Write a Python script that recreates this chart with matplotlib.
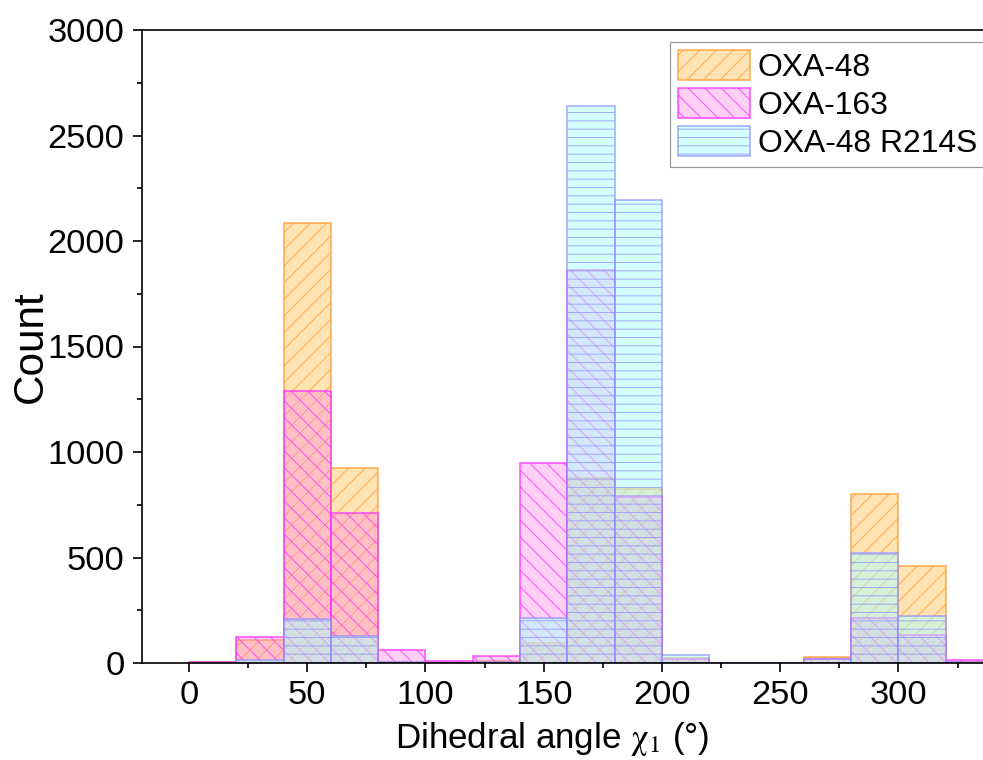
import numpy as np
import matplotlib
matplotlib.use("Agg")
import matplotlib.pyplot as plt
from matplotlib.ticker import MultipleLocator

# histogram bins (left edges, width 20 deg)
bin_left = [0, 20, 40, 60, 80, 100, 120, 140, 160, 180, 200, 220, 240, 260, 280, 300, 320]
bin_width = 20

oxa48 = [3, 110, 2087, 924, 5, 3, 8, 93, 879, 827, 22, 0, 0, 27, 801, 460, 5]
oxa163 = [5, 125, 1289, 712, 62, 9, 35, 948, 1861, 786, 20, 0, 0, 20, 212, 133, 12]
oxa48_r214s = [2, 13, 207, 130, 3, 2, 5, 211, 2642, 2196, 38, 0, 0, 18, 521, 223, 3]

labels = ["OXA-48", "OXA-163", "OXA-48 R214S"]

plt.rcParams["font.family"] = ["Liberation Sans", "DejaVu Sans"]
plt.rcParams["mathtext.fontset"] = "stix"
plt.rcParams["hatch.linewidth"] = 0.45

DPI = 150
fig = plt.figure(figsize=(984 / DPI, 760 / DPI), dpi=DPI)
ax = fig.add_axes([141.7 / 984, 97 / 760, (993 - 141.7) / 984, 633 / 760])

series = [
    (oxa48, (1.0, 0.82, 0.50, 0.6), (1.0, 0.62, 0.22, 0.85), "///"),
    (oxa163, (1.0, 0.52, 0.9, 0.38), (1.0, 0.20, 1.0, 0.85), "\\\\\\"),
    (oxa48_r214s, (0.66, 1.0, 1.0, 0.5), (0.55, 0.55, 1.0, 0.75), "---"),
]

for (vals, fc, ec, hatch), lab in zip(series, labels):
    ax.bar(bin_left, vals, width=bin_width, align="edge", facecolor=fc,
           edgecolor=ec, linewidth=0.75, hatch=hatch, label=lab)

ax.set_xlim(-20, 340)
ax.set_ylim(0, 3000)
ax.yaxis.set_major_locator(MultipleLocator(500))
ax.yaxis.set_minor_locator(MultipleLocator(250))
ax.set_xticks(np.arange(0, 301, 50))
ax.set_xticks(np.arange(25, 340, 50), minor=True)

ax.tick_params(which="major", direction="out", length=4.3, width=0.8,
               labelsize=16.5, pad=4)
ax.tick_params(which="minor", direction="out", length=2.4, width=0.8)
for sp in ax.spines.values():
    sp.set_linewidth(0.8)

ax.set_ylabel("Count", fontsize=20.3, labelpad=-1.5)
ax.set_xlabel(r"Dihedral angle $\mathrm{\chi_1}$ (°)", fontsize=16.8)
ax.xaxis.set_label_coords(0.482, -0.09)

leg = ax.legend(loc="upper left", bbox_to_anchor=(670 / 984, 1 - 41.7 / 760),
                bbox_transform=fig.transFigure, fontsize=15.3, frameon=True,
                fancybox=False, edgecolor="#808080", handlelength=2.25,
                handleheight=1.1, labelspacing=0.15, handletextpad=0.25,
                borderpad=0.25, borderaxespad=0)
leg.get_frame().set_linewidth(0.6)

fig.savefig("out.png", dpi=DPI)
